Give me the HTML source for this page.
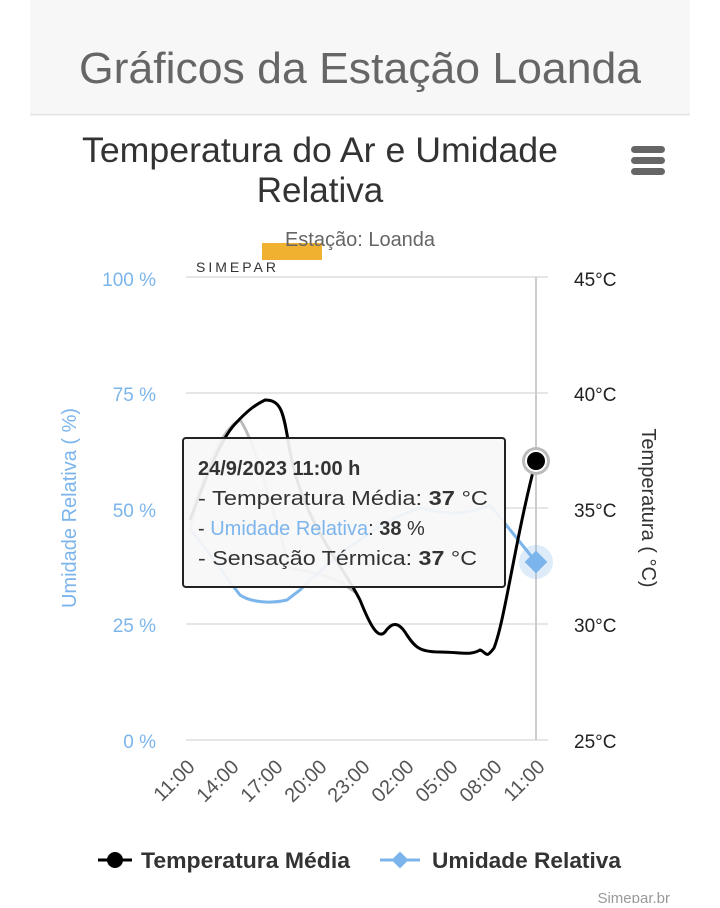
<!DOCTYPE html>
<html><head><meta charset="utf-8"><style>
body{margin:0;background:#fff;width:720px;height:903px;overflow:hidden;font-family:"Liberation Sans",sans-serif}
</style></head><body>
<svg width="720" height="903" xmlns="http://www.w3.org/2000/svg" font-family="Liberation Sans, sans-serif">
<rect x="30" y="0" width="660" height="113" fill="#f7f7f7"/>
<line x1="30" y1="114.5" x2="690" y2="114.5" stroke="#e6e6e6" stroke-width="2"/>
<text x="360" y="83" text-anchor="middle" font-size="44" fill="#666" textLength="562" lengthAdjust="spacingAndGlyphs">Gráficos da Estação Loanda</text>
<text x="320" y="162" text-anchor="middle" font-size="35" fill="#333" textLength="476" lengthAdjust="spacingAndGlyphs">Temperatura do Ar e Umidade</text>
<text x="320" y="202" text-anchor="middle" font-size="35" fill="#333">Relativa</text>
<g fill="#666"><rect x="631" y="146" width="34" height="7" rx="3.5"/><rect x="631" y="157" width="34" height="7" rx="3.5"/><rect x="631" y="168" width="34" height="7" rx="3.5"/></g>
<rect x="262" y="243" width="60" height="17" fill="#f0b030"/>
<text x="360" y="246" text-anchor="middle" font-size="20" fill="#666">Estação: Loanda</text>
<text x="196" y="272" font-size="14" fill="#333" letter-spacing="3">SIMEPAR</text>
<g stroke="#e6e6e6" stroke-width="2">
<line x1="186" y1="277" x2="548" y2="277"/><line x1="186" y1="393" x2="548" y2="393"/><line x1="186" y1="508" x2="548" y2="508"/><line x1="186" y1="624" x2="548" y2="624"/><line x1="186" y1="740" x2="548" y2="740"/>
</g>
<line x1="536" y1="277" x2="536" y2="740" stroke="#ccc" stroke-width="2"/>
<g font-size="19" fill="#7cb5ec" text-anchor="end">
<text x="156" y="286">100 %</text><text x="156" y="401">75 %</text><text x="156" y="517">50 %</text><text x="156" y="632">25 %</text><text x="156" y="748">0 %</text></g>
<g font-size="19" fill="#222"><text x="574" y="286">45°C</text><text x="574" y="401">40°C</text><text x="574" y="517">35°C</text><text x="574" y="632">30°C</text><text x="574" y="748">25°C</text></g>
<text transform="translate(76,508) rotate(-90)" text-anchor="middle" font-size="20" fill="#7cb5ec">Umidade Relativa ( %)</text>
<text transform="translate(642,508) rotate(90)" text-anchor="middle" font-size="20" fill="#333">Temperatura ( °C)</text>
<g font-size="20" fill="#555" text-anchor="end">
<text transform="translate(196,768) rotate(-45)">11:00</text><text transform="translate(240,768) rotate(-45)">14:00</text><text transform="translate(284,768) rotate(-45)">17:00</text><text transform="translate(328,768) rotate(-45)">20:00</text><text transform="translate(371,768) rotate(-45)">23:00</text><text transform="translate(415,768) rotate(-45)">02:00</text><text transform="translate(459,768) rotate(-45)">05:00</text><text transform="translate(503,768) rotate(-45)">08:00</text><text transform="translate(546,768) rotate(-45)">11:00</text></g>
<path d="M190,530 C200,480 220,430 240,420 C255,440 275,520 290,568 C310,572 330,575 345,585 L355,592" fill="none" stroke="#bbb" stroke-width="3"/>
<path d="M190,530 C205,545 220,570 240,595 C250,602 270,604 287,600 L300,590 C330,560 380,520 420,508 C440,512 460,518 490,505 L536,562" fill="none" stroke="#7cb5ec" stroke-width="3"/>
<path d="M190,520 C205,480 220,440 235,424 C248,410 255,405 265,400 C280,400 283,410 288,440 C300,520 340,560 360,600 C370,625 378,640 385,632 C392,622 398,622 405,632 C415,648 420,652 440,652 C460,652 470,656 480,650 C487,652 485,660 494,648 C505,620 515,540 536,460" fill="none" stroke="#000" stroke-width="3"/>
<circle cx="536" cy="461" r="14" fill="#bbb"/><circle cx="536" cy="461" r="10" fill="#000" stroke="#fff" stroke-width="2"/>
<circle cx="536" cy="562" r="17" fill="#7cb5ec" opacity="0.25"/>
<rect x="528" y="554" width="16" height="16" fill="#7cb5ec" transform="rotate(45 536 562)"/>
<rect x="183" y="438" width="322" height="149" rx="3" fill="#f7f7f7" fill-opacity="0.93" stroke="#222" stroke-width="2"/>
<g font-size="20" fill="#333">
<text x="198" y="475" font-weight="bold">24/9/2023 11:00 h</text>
<text x="198" y="505" textLength="290" lengthAdjust="spacingAndGlyphs">- Temperatura Média: <tspan font-weight="bold">37</tspan> °C</text>
<text x="198" y="535">- <tspan fill="#7cb5ec">Umidade Relativa</tspan>: <tspan font-weight="bold">38</tspan> %</text>
<text x="198" y="565" textLength="279" lengthAdjust="spacingAndGlyphs">- Sensação Térmica: <tspan font-weight="bold">37</tspan> °C</text></g>
<line x1="98" y1="860" x2="132" y2="860" stroke="#000" stroke-width="3"/><circle cx="115" cy="860" r="8" fill="#000"/>
<text x="141" y="868" font-size="22" font-weight="bold" fill="#333" textLength="209" lengthAdjust="spacingAndGlyphs">Temperatura Média</text>
<line x1="380" y1="860" x2="420" y2="860" stroke="#7cb5ec" stroke-width="3"/><rect x="394" y="854" width="12" height="12" fill="#7cb5ec" transform="rotate(45 400 860)"/>
<text x="432" y="868" font-size="22" font-weight="bold" fill="#333" textLength="189" lengthAdjust="spacingAndGlyphs">Umidade Relativa</text>
<text x="670" y="903" text-anchor="end" font-size="15" fill="#999">Simepar.br</text>
</svg>
</body></html>
